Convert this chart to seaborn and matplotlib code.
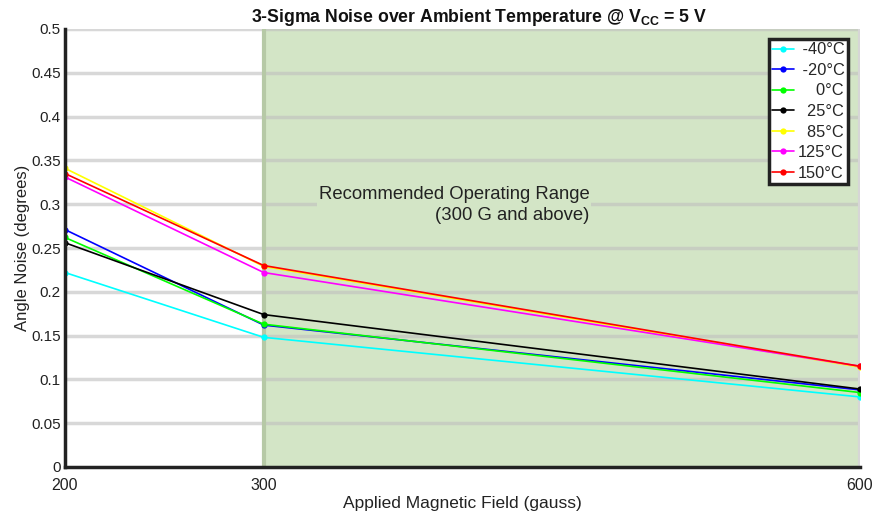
import matplotlib
matplotlib.use("Agg")
import matplotlib.pyplot as plt
import seaborn as sns
import pandas as pd

fields = [200, 300, 600]
temps = ["-40°C", "-20°C", "0°C", "25°C", "85°C", "125°C", "150°C"]
legend_labels = [" -40°C", " -20°C", "    0°C", "  25°C", "  85°C", "125°C", "150°C"]
colors = ["#00ffff", "#0000ff", "#00ff00", "#000000", "#ffff00", "#ff00ff", "#ff0000"]
noise_m40 = [0.222, 0.148, 0.080]
noise_m20 = [0.271, 0.162, 0.088]
noise_0 = [0.262, 0.163, 0.085]
noise_25 = [0.256, 0.174, 0.089]
noise_85 = [0.341, 0.229, 0.114]
noise_125 = [0.331, 0.222, 0.115]
noise_150 = [0.335, 0.230, 0.115]
series = [noise_m40, noise_m20, noise_0, noise_25, noise_85, noise_125, noise_150]
yticks = [0, 0.05, 0.1, 0.15, 0.2, 0.25, 0.3, 0.35, 0.4, 0.45, 0.5]
ytick_labels = ["0", "0.05", "0.1", "0.15", "0.2", "0.25", "0.3", "0.35", "0.4", "0.45", "0.5"]

rows = []
for t, vals in zip(temps, series):
    for f, v in zip(fields, vals):
        rows.append({"field": f, "noise": v, "temp": t})
df = pd.DataFrame(rows)

sns.set_theme(style="white")
plt.rcParams["font.family"] = ["Liberation Sans", "DejaVu Sans"]

fig = plt.figure(figsize=(8.78, 5.18), dpi=100)
ax = fig.add_axes([65/878, 1 - 467/518, (860-65)/878, (467-29)/518])

green = "#d3e5c6"
ax.axvspan(300, 600, color=green, zorder=0, lw=0)
for y in yticks[1:]:
    ax.axhline(y, color="#bfbfbf", alpha=0.6, lw=2.5, zorder=1)
ax.axvline(300, color="#b6c9a6", lw=3, zorder=1.5)
ax.axvline(600, color="#d6d6d6", lw=3, zorder=1.5)

sns.lineplot(data=df, x="field", y="noise", hue="temp", hue_order=temps,
             palette=dict(zip(temps, colors)), marker="o", markersize=4.5,
             markeredgewidth=0, lw=1.2, ax=ax, zorder=3)

ax.set_xlim(200, 600)
ax.set_ylim(0, 0.5)
ax.set_xticks(fields)
ax.set_xticklabels([str(f) for f in fields])
ax.set_yticks(yticks)
ax.set_yticklabels(ytick_labels)
ax.tick_params(axis="both", direction="in", length=5, width=2.5, color="#222222",
               labelsize=11, labelcolor="#222222")
ax.tick_params(axis="x", pad=8, labelsize=11.5)
ax.tick_params(axis="y", pad=3)
for s in ["top", "right"]:
    ax.spines[s].set_visible(False)
for s in ["left", "bottom"]:
    ax.spines[s].set_color("#222222")
    ax.spines[s].set_linewidth(2.5)
    ax.spines[s].set_zorder(4)

ax.set_xlabel("Applied Magnetic Field (gauss)", fontsize=12.5, color="#222222", labelpad=2)
ax.set_ylabel("Angle Noise (degrees)", fontsize=12, color="#222222", labelpad=1)
ax.set_title(r"3-Sigma Noise over Ambient Temperature @ V$_{\mathregular{CC}}$ = 5 V",
             fontsize=12.7, fontweight="bold", color="#111111", pad=5, x=0.521)

ax.text(0.660, 0.598, "Recommended Operating Range\n(300 G and above)",
        ha="right", va="center", multialignment="right", fontsize=13.3, color="#222222",
        transform=ax.transAxes, zorder=2, linespacing=1.3,
        bbox=dict(facecolor=green, edgecolor="none", pad=1))

handles, _ = ax.get_legend_handles_labels()
leg = ax.legend(handles, legend_labels, loc="upper left", bbox_to_anchor=(704/795, 1 - 10/438),
                title=None, fontsize=11.8, frameon=True, fancybox=False, handlelength=1.3,
                handletextpad=0.25, labelspacing=0.34, borderpad=0.2, borderaxespad=0)
leg.get_frame().set_edgecolor("#222222")
leg.get_frame().set_linewidth(2.5)
leg.get_frame().set_facecolor("white")
leg.get_frame().set_alpha(1)
leg.set_zorder(5)

fig.savefig("out.png", dpi=100)
